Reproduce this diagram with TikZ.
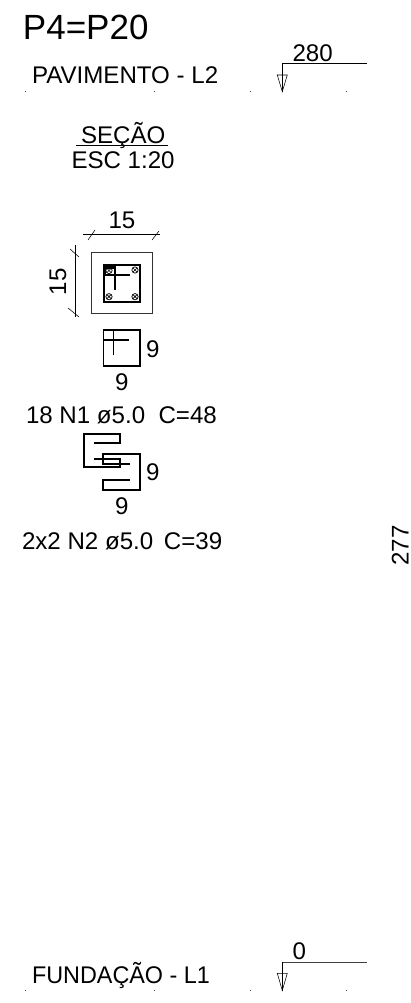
\documentclass[tikz,border=0pt]{standalone}
\usepackage{fontspec}
\setmainfont{Liberation Sans}
\tikzset{
  x=1pt,y=-1pt,
  txt/.style={inner sep=0pt,outer sep=0pt,anchor=base west,text=black},
  big/.style={txt,font=\fontsize{35}{35}\selectfont},
  mid/.style={txt,font=\fontsize{24.1}{24.1}\selectfont},
  thin/.style={draw=black,line width=0.55pt},
  bar/.style={draw=black,line width=1.6pt,line cap=butt,line join=miter},
  inbar/.style={draw=black,line width=1.2pt},
  dotm/.style={fill=black!70,inner sep=0pt,minimum size=1pt,rectangle},
  rebar/.style={circle,draw=black,line width=0.7pt,inner sep=0pt,minimum size=6.3pt,path picture={\draw[line width=0.7pt] (path picture bounding box.north west)--(path picture bounding box.south east) (path picture bounding box.north east)--(path picture bounding box.south west);}}
}
\begin{document}
\begin{tikzpicture}
\useasboundingbox (0,0) rectangle (411,1003);
\node[big] (title) at (23,40) {P4=P20};
\node[mid] (pav) at (32,83.3) {PAVIMENTO - L2};
\node[mid] (lv280) at (292.5,62) {280};
\node[mid] (secao) at (81,143.3) {SEÇÃO};
\node[mid] (esc) at (71.5,168) {ESC 1:20};
\node[mid] (d15a) at (108.5,228) {15};
\node[mid,rotate=90] (d15b) at (66,295) {15};
\node[mid] (n9a) at (146,357) {9};
\node[mid] (n9b) at (115,390) {9};
\node[mid] (n1) at (26,423) {18 N1 ø5.0\ \ C=48};
\node[mid] (n9c) at (146,480.5) {9};
\node[mid] (n9d) at (115,514) {9};
\node[mid] (n2) at (22,549) {2x2 N2 ø5.0\ \kern4pt C=39};
\node[mid,rotate=90] (v277) at (408.5,565.5) {277};
\node[mid] (lv0) at (292.5,959.5) {0};
\node[mid,xscale=0.97] (fund) at (32,983.3) {FUNDAÇÃO - L1};
% level marks
\foreach \yy/\nm in {91.7/a,990.7/b}{
 \foreach \xx/\k in {25.7/1,154/2,250/3,346/4}{
  \node[dotm] (m\nm\k) at (\xx,\yy) {};
 }
}
% top level symbol
\coordinate (t1) at (282.3,63.3); \coordinate (t2) at (366.7,63.3); \coordinate (t3) at (282.3,91.7);
\draw[thin] (t2)--(t1)--(t3);
\draw[thin] (277.3,75)--(287.3,75)--(282.3,91.7)--cycle;
\coordinate (b1) at (282.3,962); \coordinate (b2) at (366.7,962); \coordinate (b3) at (282.3,990.5);
\draw[draw=black!75,line width=0.8pt] (b2)--(b1);
\draw[thin] (b1)--(b3);
\draw[thin] (277.3,973.3)--(287.3,973.3)--(282.3,990.5)--cycle;
% section title rule
\coordinate (s1) at (75.7,145.3); \coordinate (s2) at (167.7,145.3);
\draw[thin] (s1)--(s2);
% dim horizontal
\coordinate (h1) at (83,234); \coordinate (h2) at (160,234);
\draw[thin] (h1)--(h2);
\draw[thin] (88,240)--(95,230) (152,240)--(159,231);
\coordinate (w1) at (75,245); \coordinate (w2) at (75,317);
\draw[thin] (w1)--(w2);
\draw[thin] (70,249)--(79,257) (68,308)--(79,317);
% section
\draw[draw=black!80,line width=0.7pt] (91.7,252.7) rectangle (152.3,313.3);
\draw[draw=black,line width=2pt] (103.5,265) rectangle (139.8,301.5);
\fill[black] (103,264) rectangle (115,268.5);
\fill[black] (103,264) rectangle (105.5,275);
\draw[inbar] (115,265)--(115,290) (103.5,275)--(130,275);
\node[rebar] (r1) at (109,270.5) {};
\node[rebar] (r2) at (135,270) {};
\node[rebar] (r3) at (109,296.7) {};
\node[rebar] (r4) at (135,296.7) {};
% stirrup N1
\draw[bar] (103.5,330) rectangle (140,366);
\draw[inbar] (103.5,340)--(129,340) (113.5,330)--(113.5,355);
% stirrup N2
\draw[bar] (94,443)--(120,443)--(120,434)--(84,434)--(84,467)--(120,467)--(120,459)--(94,459);
\draw[bar] (130,464)--(103,464)--(103,454)--(140,454)--(140,490)--(103,490)--(103,480)--(130,480);
\end{tikzpicture}
\end{document}
